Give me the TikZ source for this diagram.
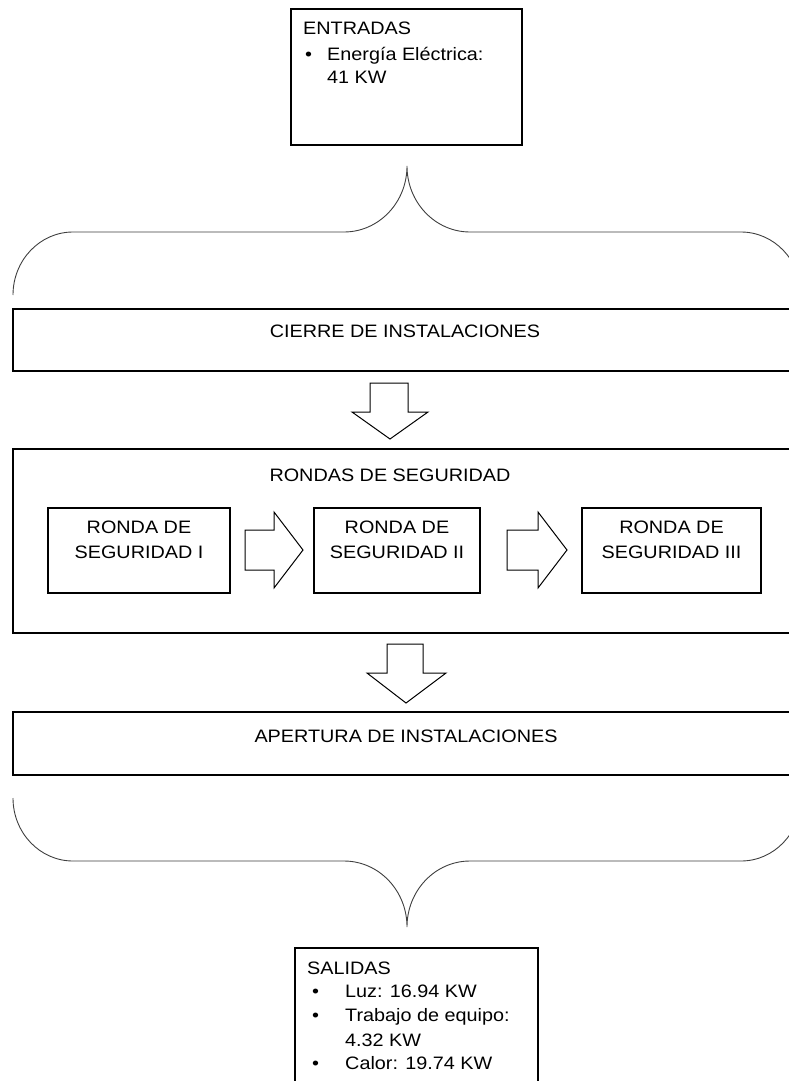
\documentclass[tikz,border=0pt]{standalone}
\usepackage{fontspec}
\setmainfont{Liberation Sans}[FakeStretch=1.1]
\begin{document}
\begin{tikzpicture}[x=1pt,y=-1pt,
  box/.style={draw, line width=1.5pt, inner sep=0pt, outer sep=0pt, anchor=north west},
  subbox/.style={box, line width=1.2pt, minimum height=85pt},
  lbl/.style={inner sep=0pt, anchor=base, font=\fontsize{18}{24}\selectfont},
  lblw/.style={inner sep=0pt, anchor=base west, font=\fontsize{18}{24}\selectfont},
  brace/.style={draw=black!75, line width=0.9pt},
  blockarrow/.style={draw, line width=1pt, fill=white, line join=miter}]
\useasboundingbox (0,0) rectangle (789,1081);
\fill[white] (0,0) rectangle (789,1081);
\clip (0,0) rectangle (789,1081);

% input box
\node[box, minimum width=231pt, minimum height=136pt] (entradas) at (291,9) {};
\node[lblw] (tin) at (303,35) {ENTRADAS};
\node[lblw] (bin) at (305,60) {•};
\node[lblw] (ein1) at (327,60) {Energía Eléctrica:};
\node[lblw] (ein2) at (327,84) {41 KW};

% upper brace
\draw[brace] (13,295) .. controls (13,260.2) and (39.9,232) .. (73,232)
  -- (344,232) .. controls (378.8,232) and (407,202.5) .. (407,166)
  .. controls (407,202.5) and (435.2,232) .. (470,232)
  -- (741,232) .. controls (774.1,232) and (801,260.2) .. (801,295);

% closing stage
\node[box, minimum width=788pt, minimum height=62pt] (cierre) at (13,309) {};
\node[lbl] (tcierre) at (405,337) {CIERRE DE INSTALACIONES};

\draw[blockarrow] (370,383) -- (408,383) -- (408,412) -- (428,412) -- (390,439)
  -- (352,412) -- (370,412) -- cycle;

% security rounds
\node[box, minimum width=788pt, minimum height=184pt] (rondas) at (13,449) {};
\node[lbl] (trondas) at (390,481) {RONDAS DE SEGURIDAD};

\node[subbox, minimum width=182pt] (r1) at (48,508) {};
\node[lbl] (r1a) at (139,533) {RONDA DE};
\node[lbl] (r1b) at (139,558) {SEGURIDAD I};

\node[subbox, minimum width=166pt] (r2) at (314,508) {};
\node[lbl] (r2a) at (397,533) {RONDA DE};
\node[lbl] (r2b) at (397,558) {SEGURIDAD II};

\node[subbox, minimum width=179pt] (r3) at (582,508) {};
\node[lbl] (r3a) at (671.5,533) {RONDA DE};
\node[lbl] (r3b) at (671.5,558) {SEGURIDAD III};

\draw[blockarrow] (245,530) -- (274,530) -- (274,512) -- (303,550) -- (274,588)
  -- (274,570) -- (245,570) -- cycle;
\draw[blockarrow] (507,530) -- (538,530) -- (538,512) -- (567,550) -- (538,588)
  -- (538,570) -- (507,570) -- cycle;

\draw[blockarrow] (387,644) -- (423,644) -- (423,673) -- (446,673) -- (406,703)
  -- (367,673) -- (387,673) -- cycle;

% opening stage
\node[box, minimum width=788pt, minimum height=63pt] (apertura) at (13,712) {};
\node[lbl] (tapertura) at (406,742) {APERTURA DE INSTALACIONES};

% lower brace
\draw[brace] (13,798) .. controls (13,832.8) and (39.9,861) .. (73,861)
  -- (344,861) .. controls (378.8,861) and (407,890.5) .. (407,927)
  .. controls (407,890.5) and (435.2,861) .. (470,861)
  -- (741,861) .. controls (774.1,861) and (801,832.8) .. (801,798);

% output box
\node[box, minimum width=243pt, minimum height=160pt] (salidas) at (295,948) {};
\node[lblw] (tout) at (307,974) {SALIDAS};
\node[lblw] (b1) at (312,997) {•};
\node[lblw] (o1) at (345,997) {Luz: 16.94 KW};
\node[lblw] (b2) at (312,1021) {•};
\node[lblw] (o2) at (345,1021) {Trabajo de equipo:};
\node[lblw] (o3) at (345,1046) {4.32 KW};
\node[lblw] (b3) at (312,1069) {•};
\node[lblw] (o4) at (345,1069) {Calor: 19.74 KW};
\end{tikzpicture}
\end{document}
